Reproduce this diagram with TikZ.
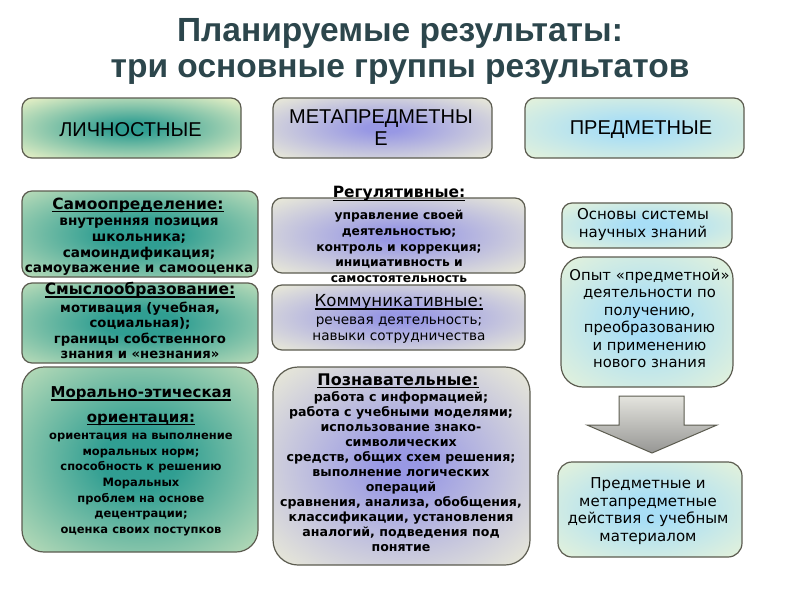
\documentclass[tikz,border=0pt]{standalone}
\usepackage{fontspec}
\setmainfont{DejaVu Sans}
\newfontfamily\titlefont{Liberation Sans}
\newfontfamily\hdrfont{Liberation Sans}
\definecolor{tealC}{RGB}{48,158,146}
\definecolor{tealE}{RGB}{240,244,200}
\definecolor{lavC}{RGB}{152,152,228}
\definecolor{lavE}{RGB}{247,247,214}
\definecolor{cyanC}{RGB}{168,222,246}
\definecolor{cyanE}{RGB}{247,248,210}
\definecolor{bord}{RGB}{92,92,80}
\definecolor{titleC}{RGB}{44,70,76}
\definecolor{arrTop}{RGB}{228,228,222}
\definecolor{arrBot}{RGB}{150,150,148}
\pgfdeclareradialshading{tealsh}{\pgfpoint{0bp}{0bp}}{color(0bp)=(tealC); color(8bp)=(tealC); color(46bp)=(tealE); color(71bp)=(tealE)}
\pgfdeclareradialshading{tealhsh}{\pgfpoint{0bp}{0bp}}{color(0bp)=(tealC); color(4bp)=(tealC); color(36bp)=(tealE); color(71bp)=(tealE)}
\pgfdeclareradialshading{lavsh}{\pgfpoint{0bp}{0bp}}{color(0bp)=(lavC); color(4bp)=(lavC); color(40bp)=(lavE); color(71bp)=(lavE)}
\pgfdeclareradialshading{cyansh}{\pgfpoint{0bp}{0bp}}{color(0bp)=(cyanC); color(6bp)=(cyanC); color(44bp)=(cyanE); color(71bp)=(cyanE)}
\newcommand\fs[2]{\fontsize{#1}{#2}\selectfont}
\newcommand\ulin[1]{\setbox0=\hbox{#1}\rlap{\rule[-0.2em]{\wd0}{0.085em}}\box0}
\tikzset{
  box/.style={draw=bord, line width=1.2pt, rounded corners=#1, inner sep=0pt},
  box/.default=10pt,
  tealbox/.style={box=#1, shading=tealsh},
  tealbox/.default=10pt,
  tealhbox/.style={box=#1, shading=tealhsh},
  tealhbox/.default=10pt,
  lavbox/.style={box=#1, shading=lavsh},
  lavbox/.default=10pt,
  cyanbox/.style={box=#1, shading=cyansh},
  cyanbox/.default=10pt,
  txt/.style={align=center, inner sep=0pt, text=black},
  hdr/.style={txt, font=\hdrfont\fs{20}{24}},
  ttl/.style={txt, font=\bfseries\fs{#1}{#1}},
}
\begin{document}
\begin{tikzpicture}[x=1pt,y=-1pt]
\useasboundingbox[fill=white] (0,0) rectangle (800,600);
% title
\node[txt, text=titleC, font=\titlefont\bfseries\fs{33.5}{36}, anchor=base] (title1) at (400,41) {Планируемые результаты:};
\node[txt, text=titleC, font=\titlefont\bfseries\fs{33.5}{36}, anchor=base] (title2) at (400,77) {три основные группы результатов};
% headers
\node[tealhbox, minimum width=219pt, minimum height=60pt] (h1) at (131.5,128) {};
\node[lavbox, minimum width=219pt, minimum height=60pt] (h2) at (382.5,128) {};
\node[cyanbox, minimum width=219pt, minimum height=60pt] (h3) at (634.5,128) {};
\node[hdr] (h1t) at (130.5,129.5) {ЛИЧНОСТНЫЕ};
\node[hdr, font=\hdrfont\fs{20}{22}] (h2t) at (381,127.5) {МЕТАПРЕДМЕТНЫ\\Е};
\node[hdr] (h3t) at (641,129.5) {ПРЕДМЕТНЫЕ};
% left column
\node[tealbox, minimum width=236pt, minimum height=86pt] (s1) at (140,234) {};
\node[tealbox, minimum width=236pt, minimum height=80pt] (s2) at (140,323) {};
\node[tealbox=22pt, minimum width=236pt, minimum height=185pt] (s3) at (140,459.5) {};
\node[ttl=15.5] (s1t) at (138,205) {\ulin{Самоопределение:}};
\node[txt, font=\bfseries\fs{13.6}{15.7}] (s1b) at (139,247) {внутренняя позиция\\школьника;\\самоиндификация;\\самоуважение и самооценка};
\node[ttl=15.5] (s2t) at (140,290) {\ulin{Смыслообразование:}};
\node[txt, font=\bfseries\fs{13.2}{15.5}] (s2b) at (140,330.5) {мотивация (учебная,\\социальная);\\границы собственного\\знания и «незнания»};
\node[txt, font=\bfseries\fs{15}{24.5}] (s3t) at (141,406) {\ulin{Морально-этическая}\\\ulin{ориентация:}};
\node[txt, font=\bfseries\fs{11.5}{15.7}] (s3b) at (141,484.5) {ориентация на выполнение\\моральных норм;\\способность к решению\\Моральных\\проблем на основе\\децентрации;\\оценка своих поступков};
% middle column
\node[lavbox, minimum width=253pt, minimum height=75pt] (m1) at (398.5,235.5) {};
\node[lavbox, minimum width=253pt, minimum height=65pt] (m2) at (398.5,317.5) {};
\node[lavbox=25pt, minimum width=257pt, minimum height=198pt] (m3) at (401.5,466) {};
\node[ttl=15.5] (m1t) at (399,194) {\ulin{Регулятивные:}};
\node[txt, font=\bfseries\fs{12.3}{15.8}] (m1b) at (399,246.5) {управление своей\\деятельностью;\\контроль и коррекция;\\инициативность и\\самостоятельность};
\node[txt, font=\fs{16.6}{16}] (m2t) at (399,302) {\ulin{Коммуникативные:}};
\node[txt, font=\fs{13.6}{16.5}] (m2b) at (399,330) {речевая деятельность;\\навыки сотрудничества};
\node[ttl=16] (m3t) at (398,381) {\ulin{Познавательные:}};
\node[txt, font=\bfseries\fs{12.6}{15}] (m3b) at (401,472) {работа с информацией;\\работа с учебными моделями;\\использование знако-\\символических\\средств, общих схем решения;\\выполнение логических\\операций\\сравнения, анализа, обобщения,\\классификации, установления\\аналогий, подведения под\\понятие};
% right column
\node[cyanbox, minimum width=170pt, minimum height=45pt] (r1) at (647,225.5) {};
\node[cyanbox=22pt, minimum width=172pt, minimum height=130pt] (r2) at (647,322) {};
\node[cyanbox=14pt, minimum width=184pt, minimum height=95pt] (r3) at (650,509.5) {};
\node[txt, font=\fs{15}{18}] (r1b) at (643,224) {Основы системы\\научных знаний};
\node[txt, font=\fs{14.8}{17.5}] (r2b) at (649.5,318.5) {Опыт «предметной»\\деятельности по\\получению,\\преобразованию\\и применению\\нового знания};
\node[txt, font=\fs{15}{17.5}] (r3b) at (648,511) {Предметные и\\метапредметные\\действия с учебным\\материалом};
% block arrow
\draw[draw=bord, line width=1pt, top color=arrTop, bottom color=arrBot]
  (619,396) -- (684,396) -- (684,425) -- (717,425) -- (652,453) -- (587,425) -- (619,425) -- cycle;
\end{tikzpicture}
\end{document}
